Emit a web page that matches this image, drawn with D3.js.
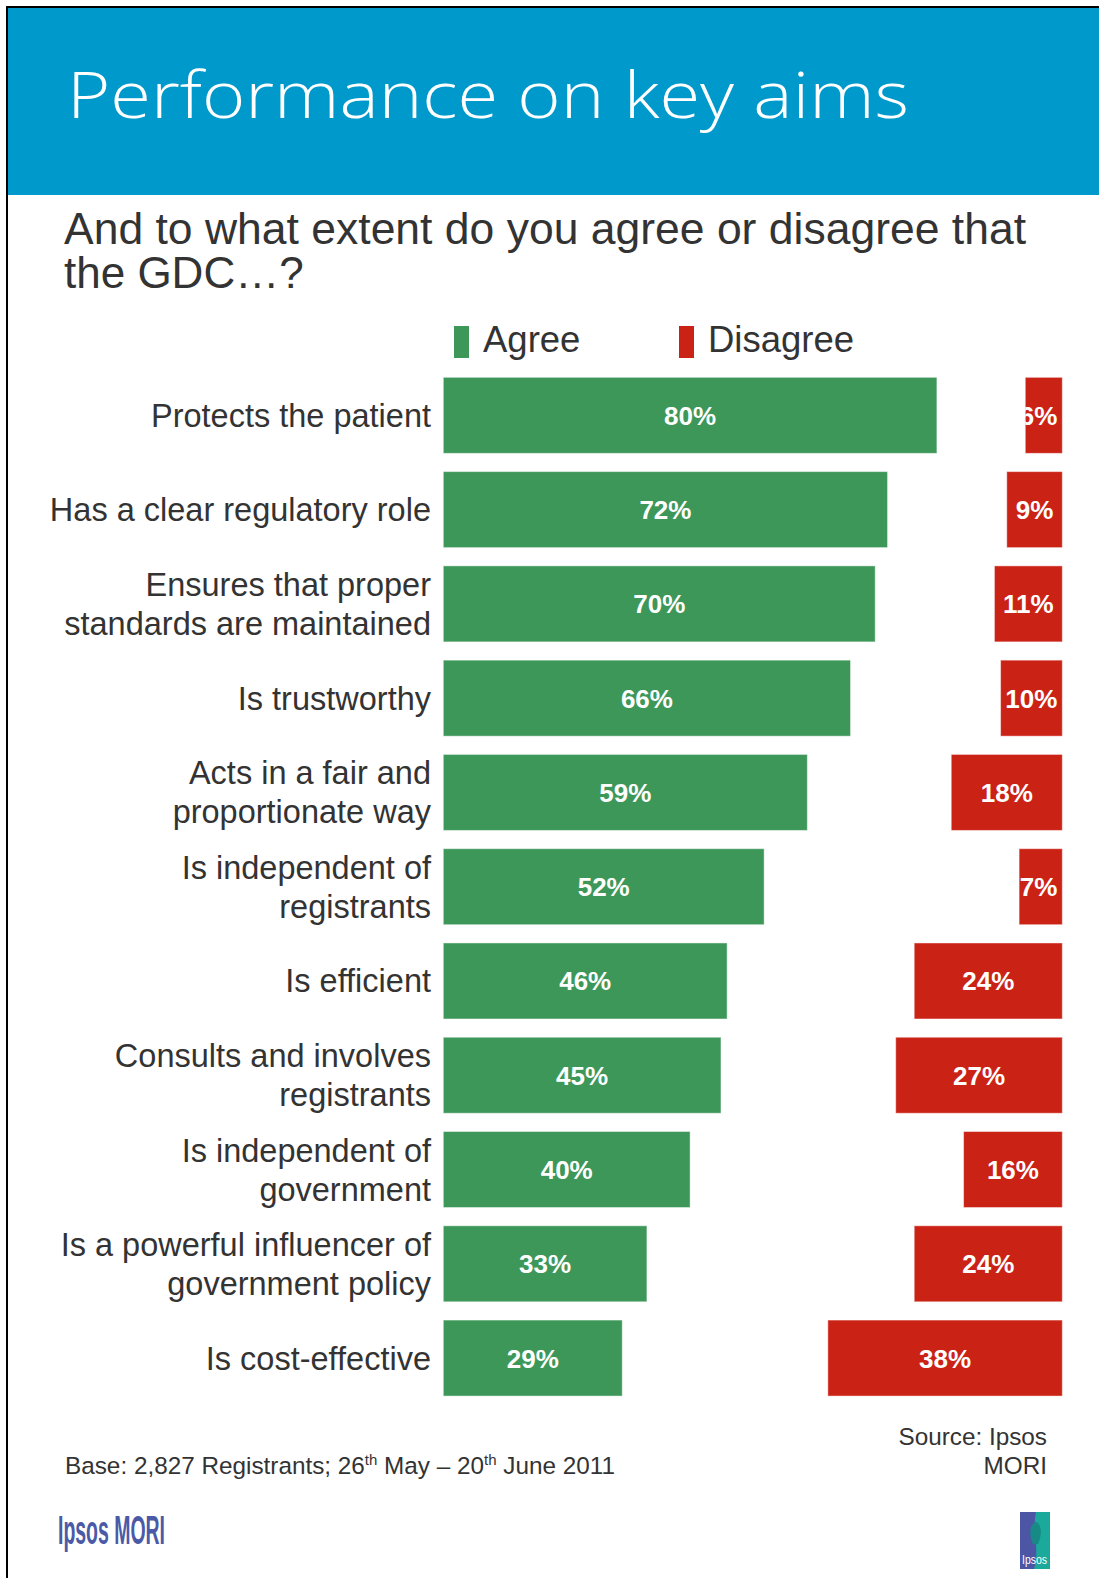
<!DOCTYPE html>
<html>
<head>
<meta charset="utf-8">
<script src="https://cdn.jsdelivr.net/npm/d3@7"></script>
<style>
  html, body { margin: 0; padding: 0; background: #fff; }
  svg { display: block; }
</style>
</head>
<body>
<div id="chart"></div>
<script>
// Survey statements, one row each (line breaks mark wrapped labels)
const categories = [
  "Protects the patient",
  "Has a clear regulatory role",
  "Ensures that proper\nstandards are maintained",
  "Is trustworthy",
  "Acts in a fair and\nproportionate way",
  "Is independent of\nregistrants",
  "Is efficient",
  "Consults and involves\nregistrants",
  "Is independent of\ngovernment",
  "Is a powerful influencer of\ngovernment policy",
  "Is cost-effective"
];
// Share of registrants (%) agreeing / disagreeing
const agreeValues    = [80, 72, 70, 66, 59, 52, 46, 45, 40, 33, 29];
const disagreeValues = [6, 9, 11, 10, 18, 7, 24, 27, 16, 24, 38];
const seriesNames = ["Agree", "Disagree"];

const W = 1099, H = 1578;
const colors = { header: "#0099cc", agree: "#3d9759", disagree: "#cb2216", text: "#333333" };

const svg = d3.select("#chart").append("svg")
  .attr("width", W).attr("height", H)
  .style("font-family", "'Liberation Sans', Arial, sans-serif");

// Header band with frame lines on top and left
svg.append("rect").attr("x", 8).attr("y", 8).attr("width", W - 8).attr("height", 187)
  .attr("fill", colors.header);
svg.append("rect").attr("x", 6).attr("y", 6).attr("width", W - 6).attr("height", 2).attr("fill", "#000");
svg.append("rect").attr("x", 6).attr("y", 6).attr("width", 2).attr("height", H - 6).attr("fill", "#000");

svg.append("text")
  .attr("x", 67).attr("y", 118)
  .attr("fill", "#fff")
  .style("font-family", "'Open Sans', 'Noto Sans', sans-serif")
  .style("font-weight", 300)
  .style("font-size", "64px")
  .attr("textLength", 842).attr("lengthAdjust", "spacingAndGlyphs")
  .text("Performance on key aims");

// Question text
const q = svg.append("text")
  .attr("fill", colors.text)
  .style("font-size", "44px");
q.append("tspan").attr("x", 64).attr("y", 244)
  .attr("textLength", 962).attr("lengthAdjust", "spacingAndGlyphs")
  .text("And to what extent do you agree or disagree that");
q.append("tspan").attr("x", 64).attr("y", 288).text("the GDC\u2026?");

// Scales
const x = d3.scaleLinear().domain([0, 100]).range([0, 617]);
const y = d3.scaleBand().domain(categories).range([368.2, 1405.2])
  .paddingInner(0.1938).paddingOuter(0.0969);

const agreeX0 = 443.3;     // left edge of the agree bars
const disagreeX1 = 1062.3; // right edge of the disagree bars

// Legend
const legend = [
  { name: seriesNames[0], color: colors.agree, sx: 454, tx: 483 },
  { name: seriesNames[1], color: colors.disagree, sx: 679, tx: 708 }
];
const lg = svg.append("g").selectAll("g").data(legend).join("g");
lg.append("rect").attr("x", d => d.sx).attr("y", 326).attr("width", 15).attr("height", 32)
  .attr("fill", d => d.color);
lg.append("text").attr("x", d => d.tx).attr("y", 352)
  .attr("fill", colors.text).style("font-size", "36.5px").text(d => d.name);

// Rows
const rows = categories.map((c, i) => ({ cat: c, i, agree: agreeValues[i], disagree: disagreeValues[i] }));
const defs = svg.append("defs");

const rowG = svg.append("g").selectAll("g").data(rows).join("g");

// Category labels, right aligned against the bars
rowG.each(function(d) {
  const lines = d.cat.split("\n");
  const cy = y(d.cat) + y.bandwidth() / 2;
  const lh = 39;
  const t = d3.select(this).append("text")
    .attr("text-anchor", "end")
    .attr("fill", colors.text)
    .style("font-size", "32.5px");
  lines.forEach((ln, k) => {
    t.append("tspan")
      .attr("x", 431)
      .attr("y", cy + 11.5 + (k - (lines.length - 1) / 2) * lh)
      .text(ln);
  });
});

function drawBar(g, d, key, x0, w, color) {
  const yy = y(d.cat), h = y.bandwidth();
  const id = `clip-${key}-${d.i}`;
  defs.append("clipPath").attr("id", id)
    .append("rect").attr("x", x0).attr("y", yy).attr("width", w).attr("height", h);
  g.append("rect")
    .attr("x", x0).attr("y", yy).attr("width", w).attr("height", h)
    .attr("fill", color)
    .attr("stroke", "rgba(255,255,255,0.45)").attr("stroke-width", 1);
  const label = g.append("text")
    .attr("clip-path", `url(#${id})`)
    .attr("text-anchor", "middle")
    .attr("x", x0 + w / 2)
    .attr("y", yy + h / 2 + 9.5)
    .attr("fill", "#fff")
    .style("font-size", "26px").style("font-weight", "bold")
    .text(d[key] + "%");
  // keep narrow labels tucked against the bar's right end
  const tw = label.node().getComputedTextLength();
  if (x0 + w / 2 + tw / 2 > x0 + w - 5) label.attr("x", x0 + w - 5 - tw / 2);
}

rowG.each(function(d) {
  const g = d3.select(this);
  drawBar(g, d, "agree", agreeX0, x(d.agree), colors.agree);
  drawBar(g, d, "disagree", disagreeX1 - x(d.disagree), x(d.disagree), colors.disagree);
});

// Footer notes
const base = svg.append("text").attr("x", 65).attr("y", 1474)
  .attr("fill", colors.text).style("font-size", "24.3px");
base.append("tspan").text("Base: 2,827 Registrants; 26");
base.append("tspan").attr("dy", -9).style("font-size", "15px").text("th");
base.append("tspan").attr("dy", 9).text(" May \u2013 20");
base.append("tspan").attr("dy", -9).style("font-size", "15px").text("th");
base.append("tspan").attr("dy", 9).text(" June 2011");

const src = svg.append("text").attr("text-anchor", "end")
  .attr("fill", colors.text).style("font-size", "24.3px");
src.append("tspan").attr("x", 1047).attr("y", 1445).text("Source: Ipsos");
src.append("tspan").attr("x", 1047).attr("y", 1474).text("MORI");

// Ipsos MORI wordmark
svg.append("text").attr("x", 58).attr("y", 1544)
  .attr("fill", "#4b5aa7")
  .style("font-family", "'Liberation Sans Narrow', 'Liberation Sans', sans-serif")
  .style("font-weight", "bold")
  .style("font-size", "41px")
  .attr("textLength", 107).attr("lengthAdjust", "spacingAndGlyphs")
  .text("Ipsos MORI");

// Ipsos block logo
const logo = svg.append("g");
logo.append("rect").attr("x", 1020).attr("y", 1512).attr("width", 30).attr("height", 57).attr("fill", "#1aa99b");
logo.append("path")
  .attr("d", "M1020,1512 H1036 C1032,1530 1040,1550 1034,1569 H1020 Z")
  .attr("fill", "#4d55a5");
logo.append("path")
  .attr("d", "M1033,1544 C1029,1536 1029,1524 1036,1522 C1042,1524 1042,1536 1038,1544 Z")
  .attr("fill", "#178a86");
logo.append("text").attr("x", 1022).attr("y", 1564)
  .attr("fill", "#fff").style("font-family", "'Liberation Sans Narrow', sans-serif")
  .style("font-size", "13px")
  .attr("textLength", 25).attr("lengthAdjust", "spacingAndGlyphs")
  .text("Ipsos");
</script>
</body>
</html>
